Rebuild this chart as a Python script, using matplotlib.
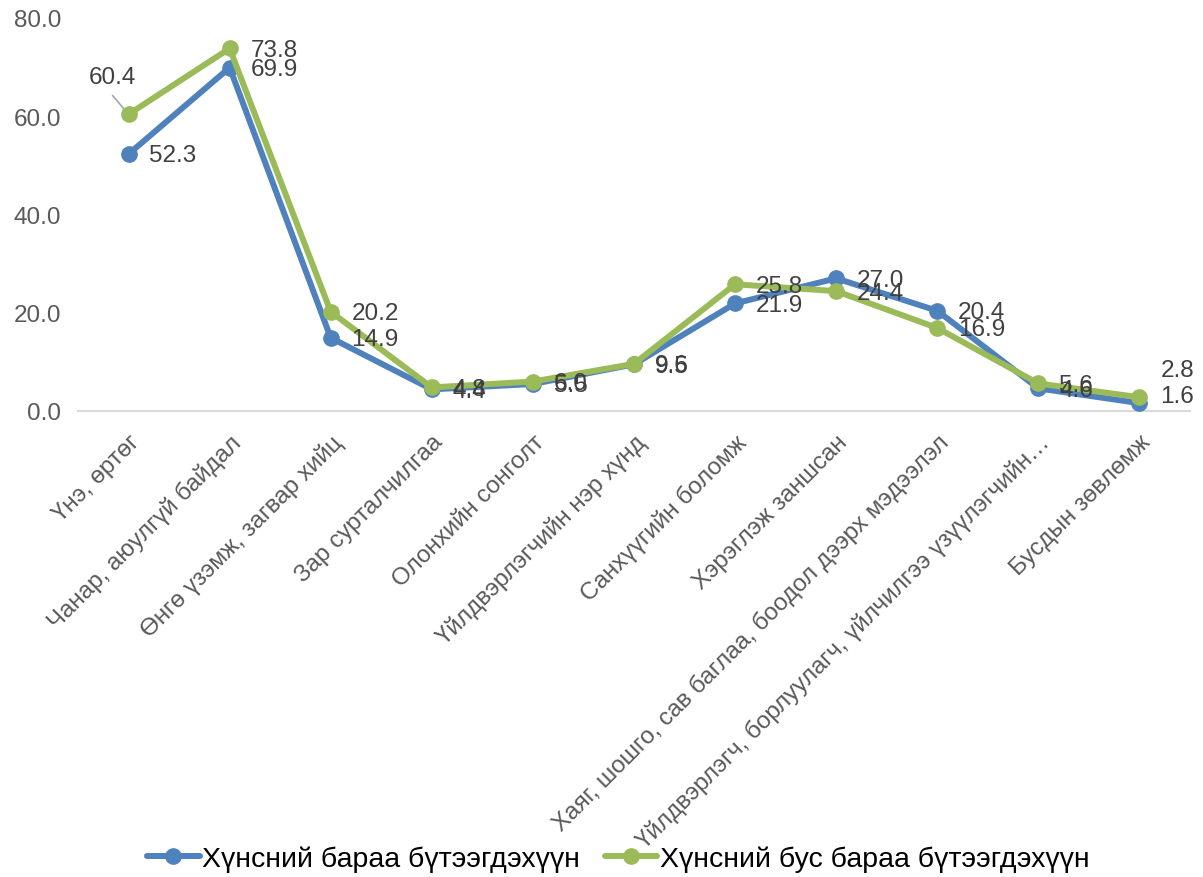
import matplotlib.pyplot as plt
import numpy as np

plt.rcParams['font.family'] = ['Liberation Sans', 'DejaVu Sans']

categories = ['Үнэ, өртөг',
              'Чанар, аюулгүй байдал',
              'Өнгө үзэмж, загвар хийц',
              'Зар сурталчилгаа',
              'Олонхийн сонголт',
              'Үйлдвэрлэгчийн нэр хүнд',
              'Санхүүгийн боломж',
              'Хэрэглэж заншсан',
              'Хаяг, шошго, сав баглаа, боодол дээрх мэдээлэл',
              'Үйлдвэрлэгч, борлуулагч, үйлчилгээ үзүүлэгчийн…',
              'Бусдын зөвлөмж']
food = [52.3, 69.9, 14.9, 4.4, 5.5, 9.5, 21.9, 27.0, 20.4, 4.6, 1.6]
nonfood = [60.4, 73.8, 20.2, 4.8, 6.0, 9.6, 25.8, 24.4, 16.9, 5.6, 2.8]
names = ['Хүнсний бараа бүтээгдэхүүн', 'Хүнсний бус бараа бүтээгдэхүүн']
colors = ['#4F81BD', '#9BBB59']

fig = plt.figure(figsize=(12.03, 8.78), dpi=100)
ax = fig.add_axes([78/1203, 1-412/878, (1190-78)/1203, (412-19)/878])
x = np.arange(len(categories))

for vals, name, c in zip([food, nonfood], names, colors):
    ax.plot(x, vals, color=c, lw=4.3, marker='o', ms=11, label=name,
            solid_capstyle='round', solid_joinstyle='round', clip_on=False, zorder=3)

lab = dict(textcoords='offset points', ha='left', va='center',
           fontsize=17.5, color='#404040')

# data labels, mostly to the right of the points
for i, v in enumerate(food):
    dy = 5 if i == len(food) - 1 else -1
    ax.annotate(f'{v:.1f}', (i, v), xytext=(15, dy), **lab)
for i, v in enumerate(nonfood):
    if i == 0:
        ax.annotate(f'{v:.1f}', (i, v), xytext=(-11.5, 27), textcoords='offset points',
                    ha='center', va='center', fontsize=17.5, color='#404040')
        # leader line
        ax.annotate('', (i, v), xytext=(-11.5, 13.5), textcoords='offset points',
                    arrowprops=dict(arrowstyle='-', color='#A6A6A6', lw=1.2,
                                    shrinkA=0, shrinkB=0), zorder=1)
    else:
        dy = 19.5 if i == len(nonfood) - 1 else -1
        ax.annotate(f'{v:.1f}', (i, v), xytext=(15, dy), **lab)

ax.set_xlim(-0.5, len(categories) - 0.5)
ax.set_ylim(0, 80)
ax.set_yticks([0, 20, 40, 60, 80])
ax.set_yticklabels([f'{t:.1f}' for t in [0, 20, 40, 60, 80]], fontsize=17.5, color='#595959')
ax.set_xticks(x)
ax.set_xticklabels(categories, rotation=45, ha='right', va='top',
                   rotation_mode='anchor', fontsize=17.5, color='#595959')
ax.tick_params(axis='both', length=0)
ax.tick_params(axis='y', pad=12)
ax.tick_params(axis='x', pad=14)
for s in ['top', 'right', 'left']:
    ax.spines[s].set_visible(False)
ax.spines['bottom'].set_color('#D9D9D9')
ax.spines['bottom'].set_linewidth(1.5)

fig.legend(loc='center', bbox_to_anchor=(0.514, 1-860/878), ncol=2, frameon=False,
           fontsize=20.5, handlelength=1.85, columnspacing=0.85, handletextpad=0.1)

fig.savefig('out.png', dpi=100)
